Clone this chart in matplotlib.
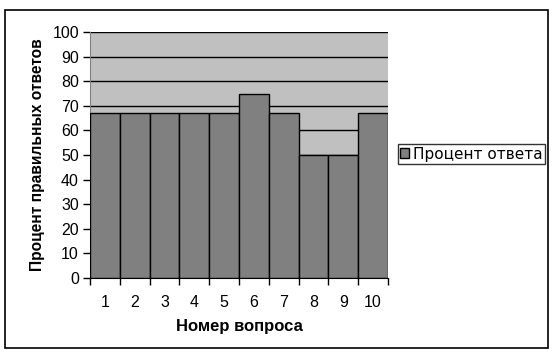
import matplotlib
matplotlib.use('Agg')
import matplotlib.pyplot as plt
from matplotlib.patches import Rectangle

questions = ['1', '2', '3', '4', '5', '6', '7', '8', '9', '10']
percent = [67, 67, 67, 67, 67, 75, 67, 50, 50, 67]
y_ticks = [0, 10, 20, 30, 40, 50, 60, 70, 80, 90, 100]

plt.rcParams['font.family'] = ['Liberation Sans', 'DejaVu Sans']

fig = plt.figure(figsize=(5.52, 3.56), dpi=100)
W, H = 552, 356

# outer chart border
fig.patches.append(Rectangle((5 / W, 1 - 348 / H), 543 / W, 338 / H,
                             transform=fig.transFigure, fill=False,
                             edgecolor='black', linewidth=1.2))

ax = fig.add_axes([90 / W, 1 - 278 / H, 298 / W, 246 / H])
ax.set_facecolor('#c0c0c0')

x = list(range(1, len(questions) + 1))
bars = ax.bar(x, percent, width=1.0, color='#808080', edgecolor='black',
              linewidth=1.0, zorder=3, label='Процент ответа')

ax.set_xlim(0.5, 10.5)
ax.set_ylim(0, 100)
ax.set_yticks(y_ticks)
ax.yaxis.grid(True, color='black', linewidth=1.0, zorder=1)
ax.set_axisbelow(True)

ax.set_xticks(x)
ax.set_xticklabels(questions)
ax.set_xticks([i + 0.5 for i in range(0, 11)], minor=True)
ax.tick_params(axis='x', which='major', length=0, pad=12, labelsize=11.5)
ax.tick_params(axis='x', which='minor', length=5, width=1, direction='out')
ax.tick_params(axis='y', length=5, width=1, direction='out', pad=3, labelsize=11.5)

for side in ['top', 'right']:
    ax.spines[side].set_visible(False)
ax.spines['left'].set_color('#808080')
ax.spines['bottom'].set_color('black')

ax.set_xlabel('Номер вопроса', fontsize=12, fontweight='bold', labelpad=7)
ax.set_ylabel('Процент правильных ответов', fontsize=11.2, fontweight='bold', labelpad=5)

leg = fig.legend(handles=[bars], labels=['Процент ответа'],
                 loc='center left', bbox_to_anchor=(398 / W, 1 - 154 / H),
                 frameon=True, fancybox=False,
                 prop={'family': 'DejaVu Sans', 'size': 11},
                 handlelength=0.6, handleheight=0.6, handletextpad=0.25,
                 borderpad=0.15, borderaxespad=0)
leg.get_frame().set_edgecolor('black')
leg.get_frame().set_linewidth(1.0)

fig.savefig('out.png', dpi=100)
